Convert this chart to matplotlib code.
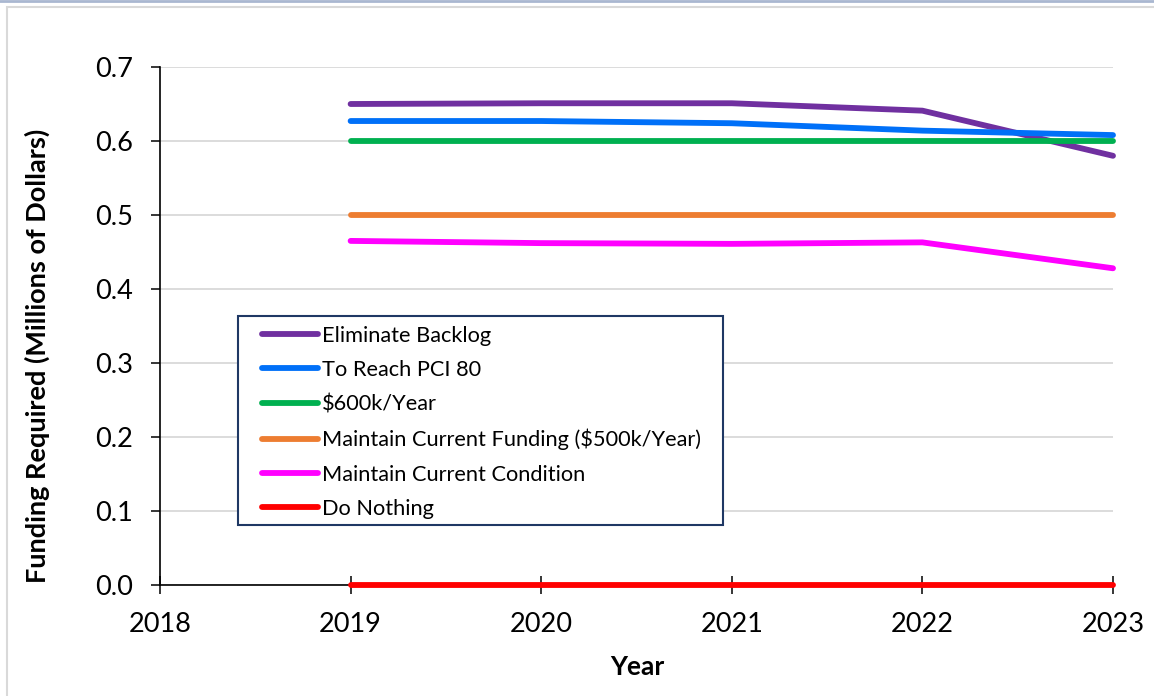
import matplotlib
matplotlib.use("Agg")
import matplotlib.pyplot as plt
from matplotlib.patches import Rectangle
from matplotlib.lines import Line2D

plt.rcParams['font.family'] = ['Lato', 'DejaVu Sans']

years = [2019, 2020, 2021, 2022, 2023]
eliminate_backlog = [0.650, 0.651, 0.651, 0.641, 0.580]
reach_pci_80 = [0.627, 0.627, 0.624, 0.614, 0.608]
fixed_600k = [0.600, 0.600, 0.600, 0.600, 0.600]
maintain_funding = [0.500, 0.500, 0.500, 0.500, 0.500]
maintain_condition = [0.465, 0.462, 0.461, 0.463, 0.428]
do_nothing = [0.0, 0.0, 0.0, 0.0, 0.0]

series_labels = ["Eliminate Backlog", "To Reach PCI 80", "$600k/Year",
                 "Maintain Current Funding ($500k/Year)",
                 "Maintain Current Condition", "Do Nothing"]
series_values = [eliminate_backlog, reach_pci_80, fixed_600k,
                 maintain_funding, maintain_condition, do_nothing]
series_colors = ["#7030A0", "#0070F8", "#00B050", "#ED7D31", "#FF00FF", "#FF0000"]

x_ticks = [2018, 2019, 2020, 2021, 2022, 2023]
y_ticks = [0.0, 0.1, 0.2, 0.3, 0.4, 0.5, 0.6, 0.7]

W, H = 1154, 696
fig = plt.figure(figsize=(W / 100, H / 100), dpi=100)


def fx(px):
    return px / W


def fy(py):
    return 1 - py / H


# chart-area border and top rule
fig.patches.append(Rectangle((fx(7), -0.05), 1.2, fy(7) + 0.05,
                             transform=fig.transFigure, fill=False,
                             edgecolor="#D9D9D9", linewidth=1.5))
fig.lines.append(Line2D([0, 1], [fy(0.5), fy(0.5)],
                        transform=fig.transFigure, color="#A9B7D0", linewidth=2))

ax = fig.add_axes([fx(160), fy(585), fx(1113) - fx(160), fy(67) - fy(585)])

for vals, lab, col in zip(series_values, series_labels, series_colors):
    ax.plot(years, vals, color=col, linewidth=4.2, label=lab,
            solid_capstyle="round", clip_on=False, zorder=3)

ax.set_xlim(2018, 2023)
ax.set_ylim(0, 0.7)
ax.set_xticks(x_ticks)
ax.set_yticks(y_ticks)
ax.set_yticklabels([f"{v:.1f}" for v in y_ticks])
ax.grid(axis="y", color="#D9D9D9", linewidth=1.3, zorder=0)
ax.set_axisbelow(True)

for s in ["top", "right"]:
    ax.spines[s].set_visible(False)
for s in ["left", "bottom"]:
    ax.spines[s].set_color("black")
    ax.spines[s].set_linewidth(1.2)

ax.tick_params(axis="x", direction="inout", length=13, width=1.1,
               labelsize=19.5, pad=13)
ax.tick_params(axis="y", direction="out", length=6.5, width=1.1,
               labelsize=19.5, pad=13)

fig.text(fx(37), fy(356), "Funding Required (Millions of Dollars)",
         rotation=90, ha="center", va="center", fontsize=19.5,
         fontweight="bold")
fig.text(fx(637), fy(667), "Year", ha="center", va="center",
         fontsize=19, fontweight="bold")

# legend frame drawn as its own box so the padding can differ per side
ax.add_patch(Rectangle((fx(237.5), fy(525)), fx(723) - fx(237.5),
                       fy(315.5) - fy(525), transform=fig.transFigure,
                       facecolor="white", edgecolor="#1F3864",
                       linewidth=1.5, zorder=4, clip_on=False))
leg = ax.legend(loc="upper left", bbox_to_anchor=(fx(262), fy(325.5)),
                bbox_transform=fig.transFigure, frameon=False,
                fontsize=15.7, handlelength=2.55, handletextpad=0.2,
                labelspacing=0.66, borderpad=0, borderaxespad=0)
leg.set_zorder(5)
for h in leg.get_lines():
    h.set_linewidth(4.2)

fig.savefig("out.png", dpi=100)
